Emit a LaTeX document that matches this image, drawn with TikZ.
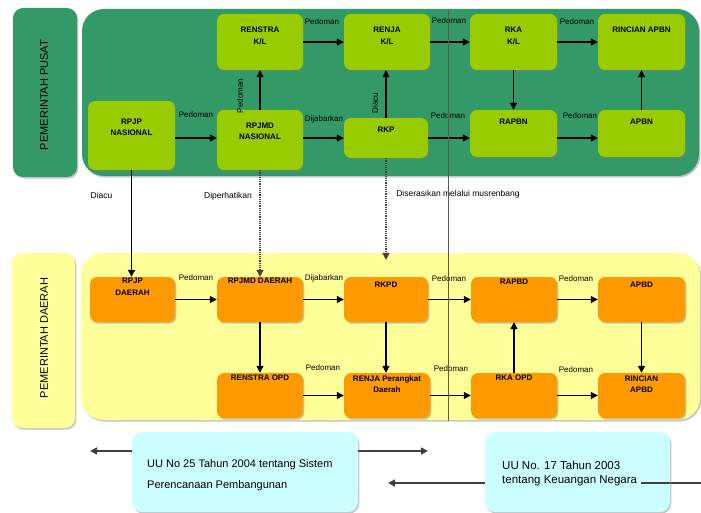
\documentclass[tikz,border=0pt]{standalone}
\usepackage{fontspec}
\setmainfont{Liberation Sans}
\usetikzlibrary{arrows.meta,shadows}
\definecolor{pgreen}{HTML}{339966}
\definecolor{blime}{HTML}{99CC00}
\definecolor{porange}{HTML}{FF9900}
\definecolor{pyellow}{HTML}{FFFF99}
\definecolor{pcyan}{HTML}{CCFFFF}
\tikzset{
  shd/.style={drop shadow={shadow xshift=1.3pt,shadow yshift=-1.6pt,opacity=0.45}},
  panel/.style={shd, inner sep=0pt},
  gbox/.style={shd, fill=blime, rounded corners=7pt, inner sep=0pt},
  obox/.style={shd, fill=porange, rounded corners=7pt, inner sep=0pt},
  cbox/.style={shd, fill=pcyan, rounded corners=10pt, inner sep=0pt},
  btxt/.style={font=\fontsize{8}{11.5}\selectfont\bfseries, align=center, inner sep=0pt},
  elbl/.style={font=\fontsize{8}{10}\selectfont, inner sep=0pt},
  mlbl/.style={font=\fontsize{8.5}{10}\selectfont, inner sep=0pt},
  sidelbl/.style={font=\fontsize{11}{13}\selectfont, rotate=90, inner sep=0pt},
  arr/.style={-{Triangle[length=7pt,width=7pt]}, line width=1.2pt, black},
  darr/.style={arr, black!75, densely dotted},
  garr/.style={-{Triangle[length=7pt,width=7pt]}, line width=1.6pt, black!75},
  sepline/.style={line width=0.8pt, black!65}
}
\begin{document}
\begin{tikzpicture}[x=1pt,y=-1pt]
\useasboundingbox (0,0) rectangle (701,513);
% panels
\node[panel, fill=pgreen, rounded corners=10pt, minimum width=64, minimum height=169] (lblpusat) at (45,92.5) {};
\node[panel, fill=pgreen, rounded corners=22pt, minimum width=617, minimum height=167] (pusat) at (390.5,92.5) {};
\node[panel, fill=pyellow, rounded corners=10pt, minimum width=63, minimum height=175] (lbldaerah) at (43.5,340.5) {};
\node[panel, fill=pyellow, rounded corners=22pt, minimum width=619, minimum height=167] (daerah) at (390.5,336.5) {};
\node[sidelbl] at (44,95) {PEMERINTAH PUSAT};
\node[sidelbl] at (44,338) {PEMERINTAH DAERAH};

% green boxes
\node[gbox, minimum width=86, minimum height=56] (renstra) at (260,42) {};
\node[gbox, minimum width=86, minimum height=56] (renja) at (387,42) {};
\node[gbox, minimum width=87, minimum height=56] (rkakl) at (513.5,42) {};
\node[gbox, minimum width=87, minimum height=56] (rincianapbn) at (641.5,42) {};
\node[gbox, minimum width=87, minimum height=69] (rpjpn) at (131.5,135.5) {};
\node[gbox, minimum width=86, minimum height=60] (rpjmdn) at (260,140) {};
\node[gbox, minimum width=84, minimum height=40] (rkp) at (386,138) {};
\node[gbox, minimum width=87, minimum height=47] (rapbn) at (513.5,133.5) {};
\node[gbox, minimum width=87, minimum height=47] (apbn) at (641.5,133.5) {};

\node[btxt] at (260,36) {RENSTRA\\K/L};
\node[btxt] at (387,36) {RENJA\\K/L};
\node[btxt] at (513.5,36) {RKA\\K/L};
\node[btxt] at (641.5,30) {RINCIAN APBN};
\node[btxt] at (131.5,127.5) {RPJP\\NASIONAL};
\node[btxt] at (260,131.5) {RPJMD\\NASIONAL};
\node[btxt] at (386,130) {RKP};
\node[btxt] at (513.5,122) {RAPBN};
\node[btxt] at (641.5,122) {APBN};

% orange boxes
\node[obox, minimum width=85, minimum height=45] (rpjpd) at (132.5,299.5) {};
\node[obox, minimum width=86, minimum height=45] (rpjmdd) at (260,299.5) {};
\node[obox, minimum width=84, minimum height=45] (rkpd) at (386,299.5) {};
\node[obox, minimum width=86, minimum height=45] (rapbd) at (514,299.5) {};
\node[obox, minimum width=87, minimum height=45] (apbd) at (641.5,299.5) {};
\node[obox, minimum width=86, minimum height=45] (renstraopd) at (260,395.5) {};
\node[obox, minimum width=86, minimum height=45] (renjapd) at (387,395.5) {};
\node[obox, minimum width=86, minimum height=45] (rkaopd) at (514,395.5) {};
\node[obox, minimum width=87, minimum height=45] (rincianapbd) at (641.5,395.5) {};

\node[btxt] at (132.5,286.5) {RPJP\\DAERAH};
\node[btxt] at (260,281) {RPJMD DAERAH};
\node[btxt] at (386,285) {RKPD};
\node[btxt] at (514,282) {RAPBD};
\node[btxt] at (641.5,285) {APBD};
\node[btxt] at (260,378) {RENSTRA OPD};
\node[btxt] at (387,384) {RENJA Perangkat\\Daerah};
\node[btxt] at (514,378) {RKA OPD};
\node[btxt] at (641.5,384) {RINCIAN\\APBD};

% top connectors
\draw[arr] (renstra) -- (renja);
\draw[arr] (renja) -- (rkakl);
\draw[arr] (rkakl) -- (rincianapbn);
\draw[arr] (rpjpn.east |- rkp) -- (rpjmdn.west |- rkp);
\draw[arr] (rpjmdn.east |- rkp) -- (rkp.west);
\draw[arr] (rkp.east) -- (rapbn.west |- rkp);
\draw[arr] (rapbn.east |- rkp) -- (apbn.west |- rkp);
\draw[arr] (rpjmdn.north) -- (renstra.south);
\draw[arr] (rkp.north) -- (rkp.north |- renja.south);
\draw[arr] (rkakl.south) -- (rapbn.north);
\draw[arr] (apbn.north) -- (rincianapbn.south);

\node[elbl] at (322,22) {Pedoman};
\node[elbl] at (449,21) {Pedoman};
\node[elbl] at (577,22) {Pedoman};
\node[elbl] at (196,115) {Pedoman};
\node[elbl] at (324,119) {Dijabarkan};
\node[elbl] at (448,116) {Pedoman};
\node[elbl] at (580,116) {Pedoman};
\node[elbl, rotate=90] at (240,96) {Pedoman};
\node[elbl, rotate=90] at (375,103) {Diacu};

% links between levels
\draw[arr] (rpjpn.south) -- (rpjpn.south |- rpjpd.north);
\draw[darr] (rpjmdn.south) -- (rpjmdd.north);
\draw[darr, shorten >=17pt] (rkp.south) -- (rkp.south |- rkpd.north);
\node[mlbl] at (101.5,195) {Diacu};
\node[mlbl] at (228,196) {Diperhatikan};
\node[mlbl] at (458,194) {Diserasikan melalui musrenbang};

% bottom connectors
\draw[arr] (rpjpd) -- (rpjmdd);
\draw[arr] (rpjmdd) -- (rkpd);
\draw[arr] (rkpd) -- (rapbd);
\draw[arr] (rapbd) -- (apbd);
\draw[arr] (rpjmdd) -- (renstraopd);
\draw[arr] (rkpd.south) -- (rkpd.south |- renjapd.north);
\draw[arr] (rkaopd) -- (rapbd);
\draw[arr] (apbd) -- (rincianapbd);
\draw[arr] (renstraopd) -- (renjapd);
\draw[arr] (renjapd) -- (rkaopd);
\draw[arr] (rkaopd) -- (rincianapbd);

\node[elbl] at (196,278) {Pedoman};
\node[elbl] at (324,278) {Dijabarkan};
\node[elbl] at (449,279) {Pedoman};
\node[elbl] at (576,279) {Pedoman};
\node[elbl] at (323,368) {Pedoman};
\node[elbl] at (451,369) {Pedoman};
\node[elbl] at (576,370) {Pedoman};

% separator line
\coordinate (vtop) at (448,10);
\coordinate (vbot) at (448,421);
\draw[sepline] (vtop) -- (vbot);

% laws
\coordinate (uul) at (90,451);
\coordinate (uur) at (428,451);
\coordinate (kright) at (701,483);
\coordinate (kleft) at (388,483);
\coordinate (kover) at (641,483);
\draw[garr] (kright) -- (kleft);
\node[cbox, minimum width=226, minimum height=80] (uu25) at (245,472) {};
\node[cbox, minimum width=185, minimum height=80] (uu17) at (577.5,472) {};
\draw[garr] (uu25.west |- uul) -- (uul);
\draw[garr] (uu25.east |- uur) -- (uur);
\draw[line width=1.6pt, black!75] (kover) -- (kover -| uu17.east);
\node[font=\fontsize{11}{21}\selectfont, align=left, anchor=west, inner sep=0pt] at (147,475) {UU No 25 Tahun 2004 tentang Sistem\\Perencanaan Pembangunan};
\node[font=\fontsize{11.5}{14}\selectfont, align=left, anchor=west, inner sep=0pt] at (502,474) {UU No. 17 Tahun 2003\\tentang Keuangan Negara};
\end{tikzpicture}
\end{document}
